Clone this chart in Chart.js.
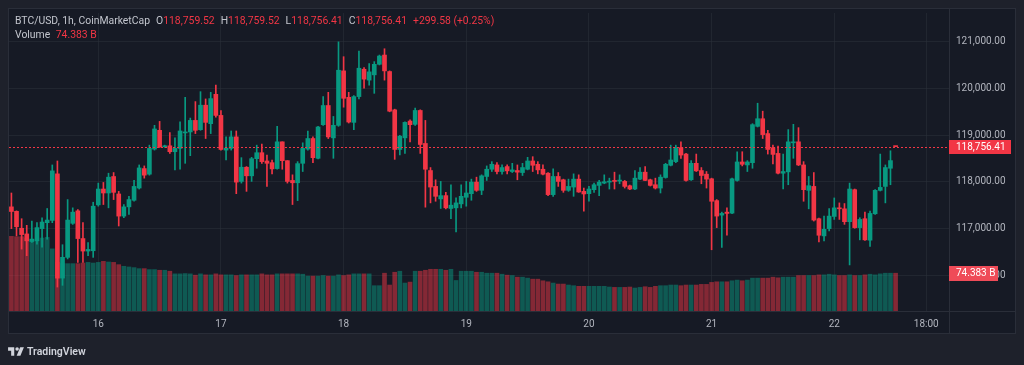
<!DOCTYPE html>
<html>
<head>
<meta charset="utf-8">
<title>BTC/USD 1h</title>
<script src="https://cdn.jsdelivr.net/npm/chart.js@4.4.1/dist/chart.umd.min.js"></script>
<style>
  body { margin: 0; background: #1e212b; }
  #wrap { position: relative; width: 1024px; height: 365px; overflow: hidden; font-family: Roboto, "DejaVu Sans", sans-serif; }
  #chart { position: absolute; left: 0; top: 0; }
  .legend { position: absolute; left: 15px; font-size: 10.4px; line-height: 14px; white-space: nowrap; color: #c3c6ce; }
  .legend .v { color: #f23645; }
  .legend .k { margin-left: 6px; }
  #brand { position: absolute; left: 8px; top: 344px; height: 14px; display: flex; align-items: center; color: #d1d4dc; font-size: 10.5px; font-weight: 600; }
  #brand svg { margin-right: 3px; }
</style>
</head>
<body>
<div id="wrap">
  <canvas id="chart" width="1024" height="365"></canvas>
  <div class="legend" id="line1" style="top:14px"></div>
  <div class="legend" id="line2" style="top:28px"></div>
  <div id="brand">
    <svg width="16" height="11" viewBox="0 0 36 25"><path d="M14 22H7V11H0V3h14v19zM28 22h-8.5l8-19H36L28 22z" fill="#d1d4dc"/><circle cx="20.5" cy="7" r="4" fill="#d1d4dc"/></svg>
    <span>TradingView</span>
  </div>
</div>
<script>
// * BTC/USD 1h candles, x = hours counted from 15th 00:00
const firstHour = 7;
const opens = [
  117466,117370,117007,116886,116724,116738,117000,117127,117176,118173,
  115940,116384,117113,117381,116787,116519,116526,117509,117848,117763,
  118116,117742,117268,117466,117607,117869,118286,118166,118703,119106,
  118753,118774,118647,118718,119050,119071,119318,119120,119644,119248,
  119877,119425,118682,118718,118965,118011,118315,118131,118498,118626,
  118449,118413,118286,118859,118456,118032,117982,118399,118703,118930,
  118506,119227,119637,118944,119212,120379,119813,119276,119828,120414,
  120181,120294,120520,120718,120365,119544,118696,118944,119304,119234,
  119531,118824,118244,117904,117636,117707,117431,117445,117530,117671,
  117749,117996,117820,118117,118272,118364,118223,118329,118223,118244,
  118201,118272,118449,118378,118272,118187,117728,118117,118046,117820,
  117890,118060,117798,117749,117834,117926,117975,117996,118032,118018,
  118011,117918,117848,118060,118209,118046,117940,117869,118095,118357,
  118435,118732,118597,118046,118399,118244,118166,118067,117600,117289,
  117353,117332,118032,118428,118364,118413,119191,119354,119036,118732,
  118611,118187,118216,118838,118859,118364,117820,117904,117212,116844,
  117000,117261,117438,117424,117148,117834,117021,117212,116752,117318,
  117820,117904,118293,118759.52
];
const highs = [
  117763,117380,117212,117070,117162,117127,117233,117431,118364,118449,
  116655,117622,117445,117410,117127,116703,117565,117975,117989,118187,
  118201,117798,117516,117692,118032,118364,118343,118788,119212,119297,
  118788,119057,118944,119290,119813,119368,119721,119934,119778,119919,
  120075,119531,118965,119092,119092,118520,118329,118527,118788,118809,
  118576,118470,119191,118859,118456,118152,118435,118838,119092,118965,
  119191,119828,119920,119403,121001,120683,119920,119849,120803,120450,
  120535,120577,120718,120853,120379,119559,119000,119290,119333,119580,
  119545,119318,118308,118046,118011,117777,117940,117657,117940,118011,
  118060,118102,118152,118343,118435,118413,118364,118364,118399,118364,
  118399,118527,118541,118435,118364,118201,118279,118201,118060,118060,
  118173,118152,117869,117904,117975,118032,118152,118081,118209,118152,
  118032,117933,118244,118308,118329,118060,118081,118152,118399,118788,
  118788,118859,118611,118456,118597,118308,118223,118081,117622,117353,
  117445,118081,118647,118647,118456,119248,119686,119516,119106,118788,
  118767,118597,119121,119234,119163,118435,118117,118201,117226,117268,
  117431,117657,117551,117537,117975,117848,117233,117353,117374,117834,
  118597,118364,118668,118759.52
];
const lows = [
  117000,116844,116561,116420,116703,116667,116600,116773,117127,115748,
  115785,116350,117090,116278,116278,116420,116384,117480,117516,117445,
  117622,117056,117233,117304,117586,117848,118081,118145,118682,118739,
  118739,118611,118258,118272,118399,118562,119036,119106,118930,119036,
  119389,118682,118470,118682,117749,117975,117798,118011,118293,118399,
  117904,118173,118272,118272,117975,117516,117600,118223,118682,118413,
  118491,119212,118930,118506,119191,119601,119262,119120,119778,120011,
  120075,119898,120506,120181,119502,118484,118576,118611,118859,119212,
  118611,117459,117551,117586,117431,117424,117212,116929,117445,117480,
  117607,117798,117728,118032,118223,118173,118166,118173,118201,118046,
  118138,118258,118223,118173,118152,117707,117692,117904,117777,117798,
  117692,117777,117374,117586,117777,117707,117961,117848,117848,117961,
  117869,117834,117834,118046,118025,117912,117848,117763,118081,118343,
  118413,118506,118018,118032,118223,117961,117869,116547,117021,116597,
  116858,117318,118018,118343,118223,118293,119177,118930,118597,118385,
  118173,117848,117940,118506,118350,117586,117424,117162,116717,116738,
  116950,117197,117197,117091,116222,117007,116759,116745,116618,117304,
  117806,117551,117940,118756.41
];
const closes = [
  117367,117042,116872,116738,116773,117021,117141,117183,118237,115939,
  116385,117183,117353,116787,116519,116554,117480,117848,117763,118102,
  117777,117268,117466,117622,117904,118300,118145,118718,119135,118753,
  118774,118647,118718,119092,119071,119318,119106,119644,119276,119785,
  119425,118696,118725,118965,117996,118315,118131,118498,118626,118435,
  118399,118279,118859,118456,118011,117982,118392,118718,118930,118520,
  119177,119637,118965,119212,120393,119792,119283,119828,120436,120202,
  120358,120520,120697,120379,119516,118696,118979,119276,119227,119531,
  118802,118272,117890,117692,117707,117445,117502,117551,117692,117763,
  117996,117820,118131,118272,118378,118223,118308,118237,118258,118209,
  118308,118449,118357,118258,118166,117728,118117,118011,117820,117904,
  118060,117784,117742,117848,117940,117996,118004,118018,118011,118039,
  117904,117848,118081,118209,118032,117926,117869,118102,118378,118470,
  118732,118576,118032,118399,118237,118138,118060,117586,117268,117325,
  117325,118067,118428,118378,118428,119227,119354,119014,118696,118590,
  118187,118223,118859,118859,118364,117834,117919,117183,116858,116985,
  117268,117445,117424,117148,117848,117021,117197,116759,117325,117820,
  117883,118308,118456.83,118756.41
];
// ? volume in billions (24h volume from CoinMarketCap)
const volumes = [
  146.9,146.2,146.2,143.6,141.7,139.8,143.6,144.9,122.3,96,
  93.2,93.2,93.2,93.2,94.4,95.7,94.4,95.7,97.7,96.4,
  95.7,91.2,88.0,86.7,85.4,83.4,83.4,81.5,81.5,80.2,
  80.2,78.3,73.1,73.1,73.7,73.1,70.5,73.1,71.1,71.1,
  73.1,71.1,71.1,71.1,69.8,71.1,71.1,71.1,71.1,73.1,
  71.1,71.1,73.1,73.1,73.1,73.1,73.1,72.4,68.6,68.6,
  68.6,69.8,68.6,68.6,71.1,69.8,71.1,73.1,73.1,73.1,
  73.1,49.8,49.8,74.4,51.1,76.3,78.3,55.0,56.9,78.3,
  78.3,80.2,82.1,82.1,82.1,80.2,82.1,60.1,78.3,78.3,
  78.3,76.3,76.3,74.4,74.4,74.4,72.4,70.5,69.8,66.6,
  66.6,64.7,62.7,62.7,59.5,57.5,55.0,53.0,53.0,51.1,
  49.8,48.5,48.5,48.5,48.5,48.5,48.5,47.2,46.5,46.5,
  46.5,47.2,45.2,46.5,47.8,46.5,48.5,49.8,49.8,51.1,
  51.1,49.8,51.1,51.1,51.1,52.4,52.4,56.3,57.5,57.5,
  57.5,59.5,60.8,59.5,60.8,64.7,64.7,64.7,64.7,66.6,
  65.3,66.6,66.6,66.6,69.8,69.8,69.8,69.8,71.1,71.1,
  72.4,71.1,69.8,69.8,71.1,69.8,69.8,71.1,72.4,71.1,
  73.1,74.4,74.4,74.383
];
const timeTicks = [24, 48, 72, 96, 120, 144, 168, 186];
const timeLabels = ["16", "17", "18", "19", "20", "21", "22", "18:00"];
const priceTicks = [116000, 117000, 118000, 119000, 120000, 121000];

const upColor = "#089981";
const downColor = "#f23645";
const volUp = "rgba(8,153,129,0.5)";
const volDown = "rgba(242,54,69,0.5)";
const gridColor = "rgba(42,46,57,0.6)";
const axisText = "#b2b5be";

const fmt = new Intl.NumberFormat("en-US", { minimumFractionDigits: 2, maximumFractionDigits: 2 });
const isUp = (i) => closes[i] >= opens[i];
const last = closes.length - 1;

// * legend text from the last candle
const chg = closes[last] - closes[last - 1];
const pct = (chg / closes[last - 1]) * 100;
document.getElementById("line1").innerHTML =
  'BTC/USD, 1h, CoinMarketCap' +
  '<span class="k">O</span><span class="v">' + fmt.format(opens[last]) + '</span>' +
  '<span class="k">H</span><span class="v">' + fmt.format(highs[last]) + '</span>' +
  '<span class="k">L</span><span class="v">' + fmt.format(lows[last]) + '</span>' +
  '<span class="k">C</span><span class="v">' + fmt.format(closes[last]) + '</span>' +
  '<span class="k v">' + (chg >= 0 ? "+" : "") + fmt.format(chg) + ' (' + (pct >= 0 ? "+" : "") + pct.toFixed(2) + '%)</span>';
document.getElementById("line2").innerHTML =
  'Volume <span class="v" style="margin-left:3px">' + volumes[last].toFixed(3) + ' B</span>';

const bodyData = opens.map((o, i) => ({ x: firstHour + i, y: [o, closes[i]] }));
const wickData = lows.map((l, i) => ({ x: firstHour + i, y: [l, highs[i]] }));
const volData = volumes.map((v, i) => ({ x: firstHour + i, y: v }));

const framePlugin = {
  id: "frame",
  beforeDraw(chart) {
    const c = chart.ctx;
    c.save();
    c.fillStyle = "#1e212b";
    c.fillRect(0, 0, chart.width, chart.height);
    c.fillStyle = "#161a25";
    c.fillRect(8, 8, 1008, 326);
    c.restore();
  },
  afterDraw(chart) {
    const c = chart.ctx;
    const area = chart.chartArea;
    const yS = chart.scales.y;
    const vS = chart.scales.yv;
    c.save();
    // borders
    c.strokeStyle = "#2a2e39";
    c.lineWidth = 1;
    c.strokeRect(8.5, 8.5, 1007, 325);
    c.beginPath();
    c.moveTo(Math.round(area.right) + 0.5, 8);
    c.lineTo(Math.round(area.right) + 0.5, 334);
    c.moveTo(8, Math.round(area.bottom) + 0.5);
    c.lineTo(1016, Math.round(area.bottom) + 0.5);
    c.stroke();

    // last price line
    const py = Math.round(yS.getPixelForValue(closes[last])) + 0.5;
    c.strokeStyle = downColor;
    c.setLineDash([2, 2]);
    c.beginPath();
    c.moveTo(area.left, py);
    c.lineTo(area.right, py);
    c.stroke();
    c.setLineDash([]);

    c.font = "10px Roboto, 'DejaVu Sans', sans-serif";
    c.textBaseline = "middle";
    c.textAlign = "left";
    // price label
    c.fillStyle = isUp(last) ? upColor : downColor;
    c.fillRect(area.right, py - 7.5, 62, 14);
    c.fillStyle = "#ffffff";
    c.fillText(fmt.format(closes[last]), area.right + 7, py);
    // volume label
    const vy = Math.round(vS.getPixelForValue(volumes[last])) + 0.5;
    c.fillStyle = "#ef4b58";
    c.fillRect(area.right, vy - 7.5, 49, 15);
    c.fillStyle = "#ffffff";
    c.fillText(volumes[last].toFixed(3) + " B", area.right + 7, vy);
    c.restore();
  },
};

Chart.defaults.font.family = "Roboto, 'DejaVu Sans', sans-serif";
Chart.defaults.font.size = 10;

const chart = new Chart(document.getElementById("chart").getContext("2d"), {
  type: "bar",
  data: {
    datasets: [
      {
        label: "Volume",
        data: volData,
        yAxisID: "yv",
        barThickness: 4,
        grouped: false,
        order: 3,
        backgroundColor: (ctx) => (isUp(ctx.dataIndex) ? volUp : volDown),
      },
      {
        label: "Wick",
        data: wickData,
        barThickness: 1,
        grouped: false,
        order: 2,
        backgroundColor: (ctx) => (isUp(ctx.dataIndex) ? upColor : downColor),
      },
      {
        label: "Body",
        data: bodyData,
        barThickness: 4,
        minBarLength: 1,
        grouped: false,
        order: 1,
        backgroundColor: (ctx) => (isUp(ctx.dataIndex) ? upColor : downColor),
      },
    ],
  },
  options: {
    responsive: false,
    devicePixelRatio: 1,
    animation: false,
    layout: { padding: { left: 9, right: 8, top: 9, bottom: 31 } },
    plugins: { legend: { display: false }, tooltip: { enabled: false } },
    scales: {
      x: {
        type: "linear",
        min: 6.53,
        max: 190.45,
        offset: false,
        border: { display: false },
        grid: { color: gridColor, offset: false, drawTicks: false },
        afterBuildTicks: (scale) => {
          scale.ticks = timeTicks.map((v) => ({ value: v }));
        },
        afterFit: (scale) => {
          scale.height = 23;
        },
        ticks: {
          color: axisText,
          padding: 7,
          maxRotation: 0,
          autoSkip: false,
          callback: (value) => timeLabels[timeTicks.indexOf(value)],
        },
      },
      y: {
        type: "linear",
        position: "right",
        min: 115235,
        max: 121619,
        border: { display: false },
        grid: { color: gridColor, drawTicks: false },
        afterBuildTicks: (scale) => {
          scale.ticks = priceTicks.map((v) => ({ value: v }));
        },
        afterFit: (scale) => {
          scale.width = 67;
        },
        ticks: {
          color: axisText,
          padding: 7,
          callback: (value) => fmt.format(value),
        },
      },
      yv: {
        type: "linear",
        display: false,
        min: 0,
        max: 586.5,
      },
    },
  },
  plugins: [framePlugin],
});
</script>
</body>
</html>
